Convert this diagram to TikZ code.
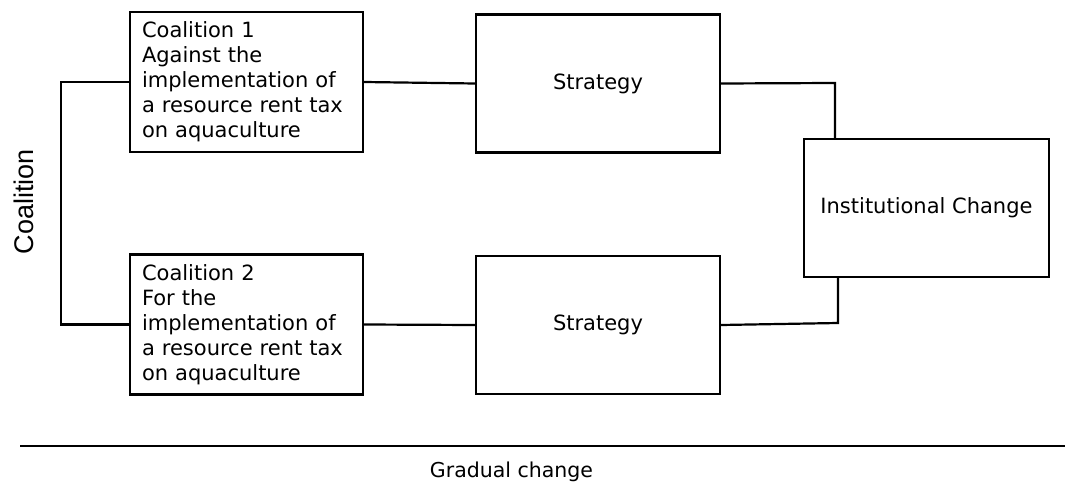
\documentclass[tikz,border=0pt]{standalone}
\usepackage{fontspec}
\setmainfont{DejaVu Sans}
\newfontfamily\axisfont{Liberation Sans}
\begin{document}
\begin{tikzpicture}[x=1pt,y=-1pt,
  box/.style={draw=black, line width=2.2pt, inner sep=0pt, font=\fontsize{21}{25}\selectfont},
  link/.style={draw=black, line width=2.2pt},
  txtbox/.style={box, align=left, text width=209pt, inner xsep=12pt, minimum width=233pt, minimum height=140pt}
]
\useasboundingbox (0,0) rectangle (1065,492);

% coalitions
\node[txtbox] (c1) at (246.5,82) {Coalition 1\\Against the\\implementation of\\a resource rent tax\\on aquaculture};
\node[txtbox] (c2) at (246.5,324.5) {Coalition 2\\For the\\implementation of\\a resource rent tax\\on aquaculture};

% strategies
\node[box, minimum width=244pt, minimum height=138pt] (s1) at (598,83.5) {Strategy};
\node[box, minimum width=244pt, minimum height=138pt] (s2) at (598,325) {Strategy};

% outcome
\node[box, minimum width=245pt, minimum height=138pt] (ic) at (926.5,208) {Institutional Change};

% side label
\node[font=\axisfont\fontsize{27}{27}\selectfont, rotate=90] (lab) at (24,201.5) {Coalition};

% connectors
\draw[link] (c1.west) -- ++(-68,0) |- (c2.west);
\draw[link] (c1.east) -- (s1.west);
\draw[link] (c2.east) -- (s2.west);
\coordinate (j1) at (835,83);
\coordinate (j2) at (838,323);
\draw[link] (s1.east) -- (j1) -- (j1 |- ic.north);
\draw[link] (s2.east) -- (j2) -- (j2 |- ic.south);

% time axis
\coordinate (t0) at (20,446);
\coordinate (t1) at (1065,446);
\draw[black, line width=1.5pt] (t0) -- (t1);
\node[font=\fontsize{20.5}{21}\selectfont] (gc) at (511.5,472) {Gradual change};
\end{tikzpicture}
\end{document}
